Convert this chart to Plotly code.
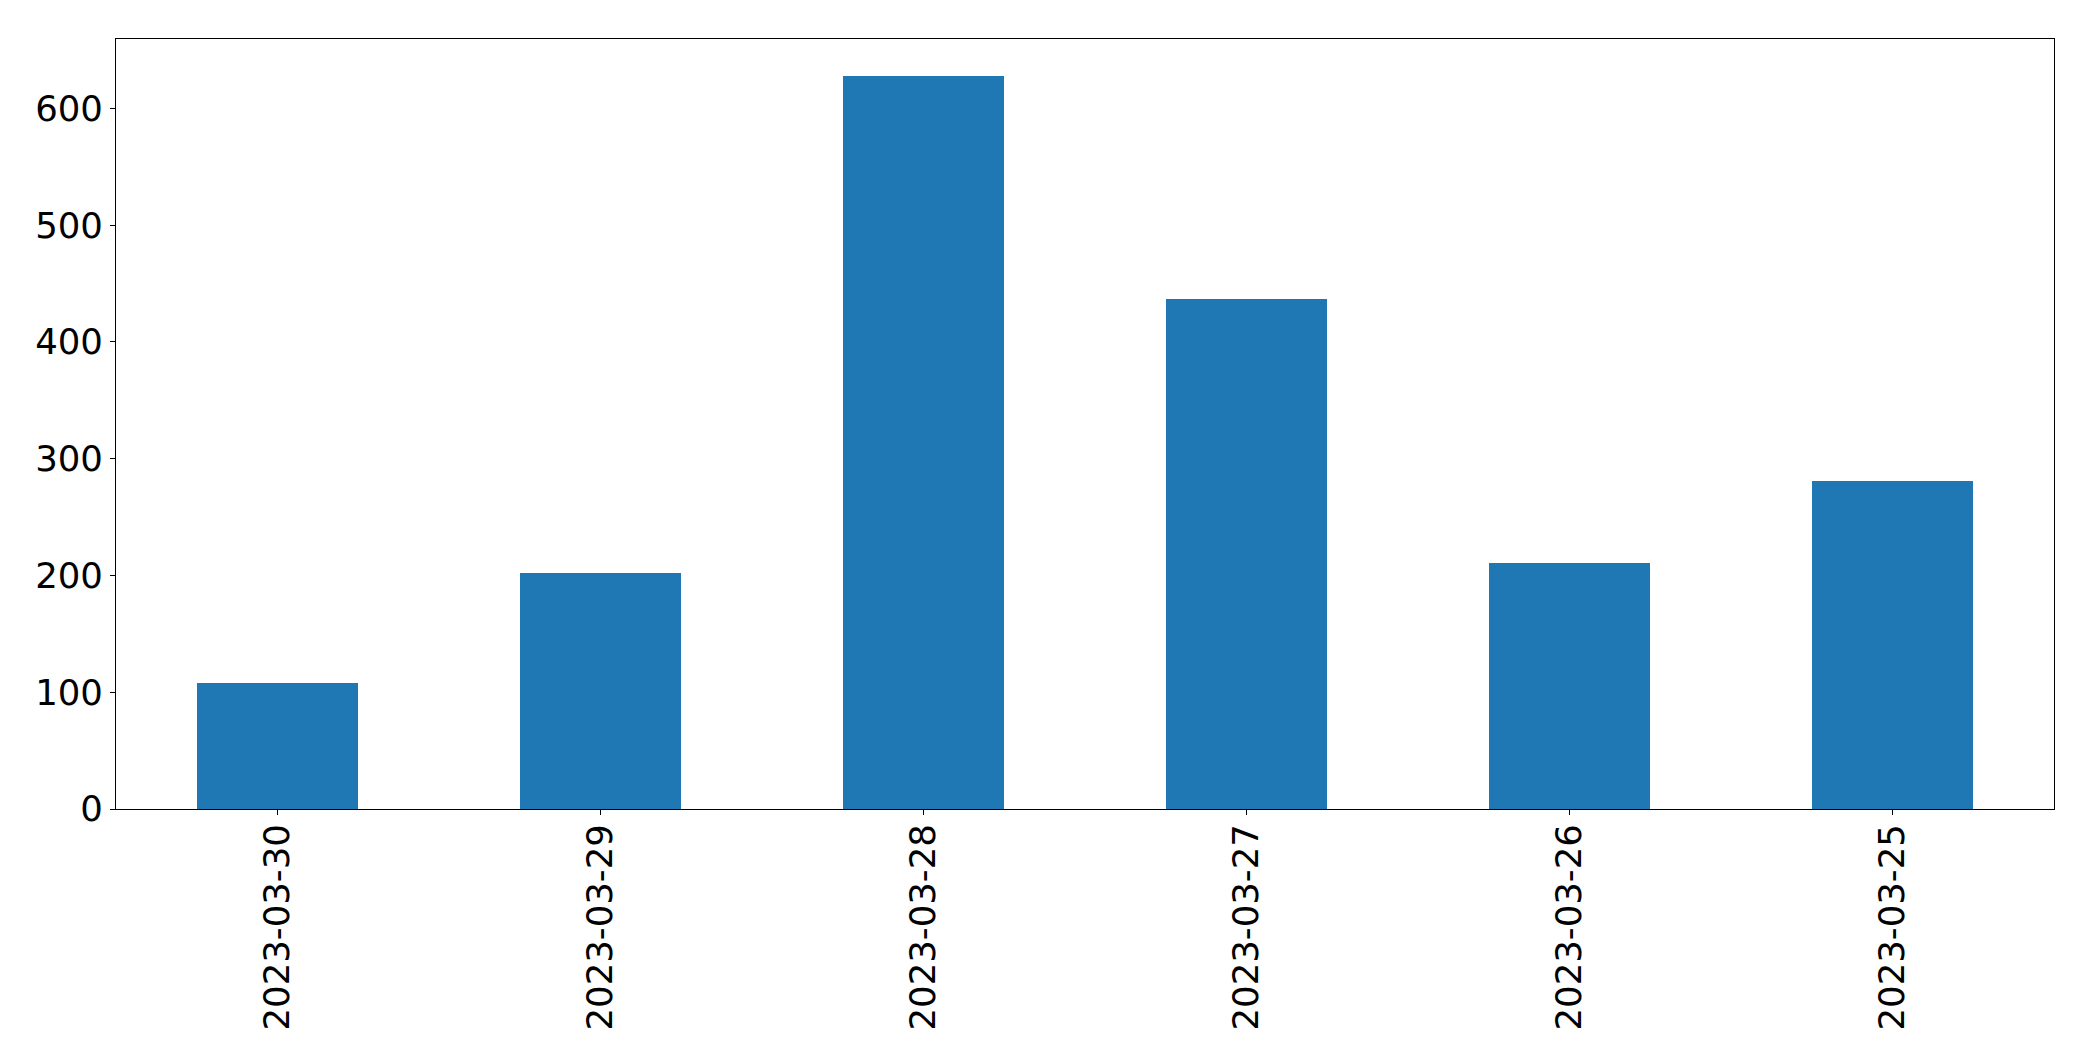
import plotly.graph_objects as go

categories = ["2023-03-30", "2023-03-29", "2023-03-28", "2023-03-27", "2023-03-26", "2023-03-25"]
values = [108, 202, 628, 437, 211, 281]
y_ticks = [0, 100, 200, 300, 400, 500, 600]

fig = go.Figure(
    go.Bar(
        x=categories,
        y=values,
        width=0.5,
        marker=dict(color="#1f77b4", line=dict(width=0)),
    )
)

font_family = "DejaVu Sans, sans-serif"
fig.update_layout(
    width=2093,
    height=1061,
    margin=dict(l=108, r=47, t=31, b=260, autoexpand=False),
    paper_bgcolor="white",
    plot_bgcolor="white",
    showlegend=False,
    font=dict(family=font_family, size=35.5, color="black"),
    bargap=0,
)
fig.update_xaxes(
    type="category",
    range=[-0.5, 5.5],
    tickangle=-90,
    ticks="outside",
    ticklen=5,
    tickwidth=1,
    tickcolor="black",
    ticklabelstandoff=-5,
    showline=True,
    linecolor="black",
    linewidth=1,
    mirror=True,
    showgrid=False,
    automargin=False,
    tickfont=dict(family=font_family, size=35.5, color="black"),
)
fig.update_yaxes(
    range=[0, max(values) * 1.05],
    tickvals=y_ticks,
    ticktext=[str(v) for v in y_ticks],
    ticks="outside",
    ticklen=5,
    tickwidth=1,
    tickcolor="black",
    showline=True,
    linecolor="black",
    linewidth=1,
    mirror=True,
    showgrid=False,
    zeroline=False,
    automargin=False,
    tickfont=dict(family=font_family, size=35.5, color="black"),
)

fig.write_html("out.html")
